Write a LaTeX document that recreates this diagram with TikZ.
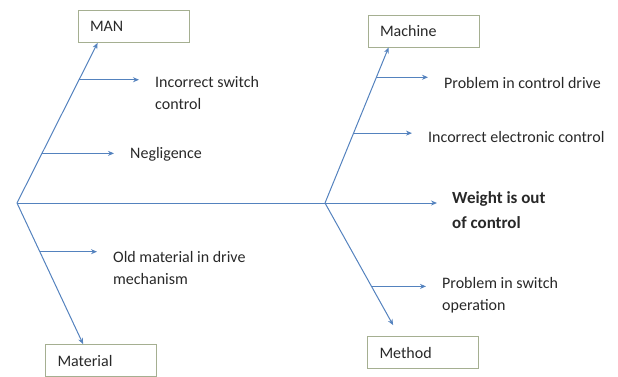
\documentclass[tikz,border=0pt]{standalone}
\usepackage{fontspec}
\setmainfont{Carlito}
\usetikzlibrary{arrows.meta,calc}
\definecolor{bonecol}{RGB}{84,130,190}
\definecolor{boxcol}{RGB}{165,175,145}
\definecolor{txtcol}{RGB}{40,40,40}
\begin{document}
\begin{tikzpicture}[x=1pt,y=-1pt,
  every node/.style={font=\fontsize{16}{22}\selectfont, text=txtcol},
  cat/.style={draw=boxcol, line width=0.8pt, minimum height=32pt, text width=87pt,
    inner xsep=12pt, inner ysep=0pt, align=left},
  cause/.style={anchor=west, inner sep=0pt, align=left},
  bone/.style={draw=bonecol, line width=1pt, -{Stealth[length=6pt,width=5pt]}},
  twig/.style={draw=bonecol, line width=0.9pt, -{Stealth[length=6pt,width=5pt]}}]

  \useasboundingbox (0,0) rectangle (618,376);

  % Boxes
  \node[cat] (man) at (133.5,26.5) {MAN};
  \node[cat] (machine) at (423.5,31) {Machine};
  \node[cat] (material) at (101,360.5) {Material};
  \node[cat] (method) at (423,352.5) {Method};

  % Spine
  \coordinate (tail) at (17,203);
  \coordinate (joint) at (325,203);
  \node[cause, font=\fontsize{17}{25}\selectfont\bfseries] (effect) at (452,210) {Weight is out\\of control};
  \draw[bone] (tail) -- ($(effect.west |- joint)+(-15,0)$);

  % Bones
  \coordinate (manend) at ([xshift=20pt]man.south west);
  \coordinate (machineend) at ([xshift=21pt]machine.south west);
  \coordinate (materialend) at ([xshift=38pt]material.north west);
  \coordinate (methodend) at ([xshift=26pt,yshift=11pt]method.north west);
  \draw[bone] (tail) -- (manend);
  \draw[bone] (joint) -- (machineend);
  \draw[bone] (tail) -- (materialend);
  \draw[bone] (joint) -- (methodend);

  % Causes
  \node[cause] (c1) at (155,93) {Incorrect switch\\control};
  \node[cause] (c2) at (130,154) {Negligence};
  \node[cause] (c3) at (444,83) {Problem in control drive};
  \node[cause] (c4) at (428,137) {Incorrect electronic control};
  \node[cause] (c5) at (113,268) {Old material in drive\\mechanism};
  \node[cause] (c6) at (442,295) {Problem in switch\\operation};

  \coordinate (m1) at ($(tail)!0.77!(manend)$);
  \coordinate (m2) at ($(tail)!0.31!(manend)$);
  \coordinate (m3) at ($(joint)!0.808!(machineend)$);
  \coordinate (m4) at ($(joint)!0.449!(machineend)$);
  \coordinate (m5) at ($(tail)!0.345!(materialend)$);
  \coordinate (m6) at ($(joint)!0.683!(methodend)$);
  \draw[twig] (m1) -- ($(m1 -| c1.west)+(-16,0)$);
  \draw[twig] (m2) -- ($(m2 -| c2.west)+(-16,0)$);
  \draw[twig] (m3) -- ($(m3 -| c3.west)+(-16,0)$);
  \draw[twig] (m4) -- ($(m4 -| c4.west)+(-16,0)$);
  \draw[twig] (m5) -- ($(m5 -| c5.west)+(-16,0)$);
  \draw[twig] (m6) -- ($(m6 -| c6.west)+(-16,0)$);
\end{tikzpicture}
\end{document}
